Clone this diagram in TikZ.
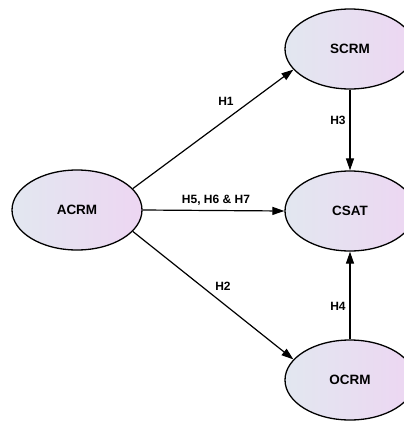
\documentclass[tikz,border=0pt]{standalone}
\usepackage{fontspec}
\setmainfont{Liberation Sans}
\usetikzlibrary{shapes.geometric,arrows.meta}
\definecolor{gleft}{RGB}{226,231,240}
\definecolor{gright}{RGB}{237,214,242}
\tikzset{
  construct/.style={ellipse, draw=black, line width=1.3pt, minimum width=130pt, minimum height=80pt,
    inner sep=0pt, left color=gleft, right color=gright, font=\fontsize{13.5}{15}\selectfont\bfseries},
  path/.style={draw=black, line width=1.2pt, -{Triangle[length=12pt,width=8pt]}},
  hyp/.style={font=\fontsize{12}{14}\selectfont\bfseries, inner sep=0pt}
}
\begin{document}
\begin{tikzpicture}[x=1pt,y=-1pt]
\useasboundingbox (0,0) rectangle (404,421);
\begin{scope}
\clip (0,0) rectangle (404,421);
\node[construct] (ACRM) at (77,210) {ACRM};
\node[construct] (SCRM) at (350,49) {SCRM};
\node[construct] (CSAT) at (350,211) {CSAT};
\node[construct] (OCRM) at (350,380) {OCRM};
\draw[path] (ACRM.21) -- (SCRM.200);
\draw[path] (ACRM.east) -- (CSAT.west);
\draw[path] (ACRM.-21) -- (OCRM.160);
\draw[path] (SCRM.south) -- (CSAT.north);
\draw[path] (OCRM.north) -- (CSAT.south);
\end{scope}
\node[hyp] (h1) at (226,101) {H1};
\node[hyp] (h567) at (216,200) {H5, H6 \& H7};
\node[hyp] (h2) at (223,286) {H2};
\node[hyp] (h3) at (338,120) {H3};
\node[hyp] (h4) at (338,306) {H4};
\end{tikzpicture}
\end{document}
